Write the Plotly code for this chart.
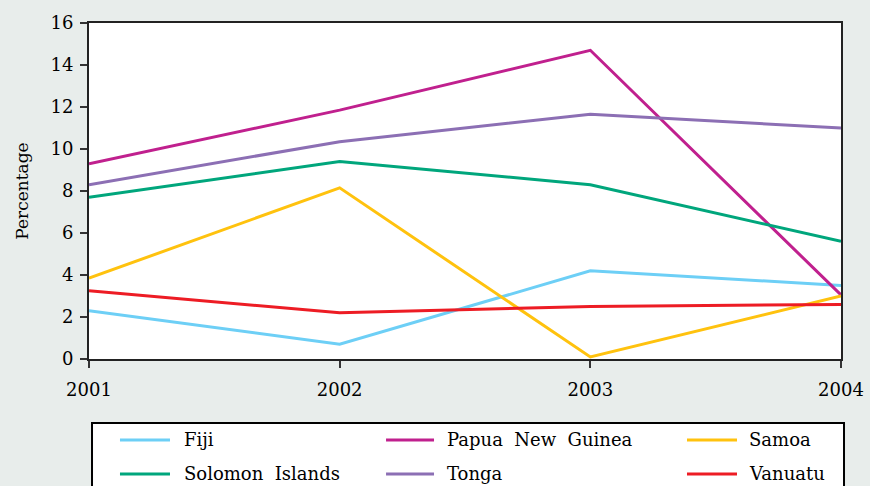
import plotly.graph_objects as go

years = [2001, 2002, 2003, 2004]
series_names = ["Fiji", "Papua New Guinea", "Samoa",
                "Solomon Islands", "Tonga", "Vanuatu"]
fiji = [2.3, 0.7, 4.2, 3.5]
papua_new_guinea = [9.3, 11.85, 14.7, 3.05]
samoa = [3.85, 8.15, 0.1, 3.0]
solomon_islands = [7.7, 9.4, 8.3, 5.6]
tonga = [8.3, 10.35, 11.65, 11.0]
vanuatu = [3.25, 2.2, 2.5, 2.6]
y_ticks = [0, 2, 4, 6, 8, 10, 12, 14, 16]

values = [fiji, papua_new_guinea, samoa, solomon_islands, tonga, vanuatu]
colors = ["#6dcff6", "#c0208e", "#ffc20e", "#00a67c", "#8c6fb4", "#ed1c24"]

FONT = "DejaVu Serif"

fig = go.Figure()
for name, vals, col in zip(series_names, values, colors):
    fig.add_trace(go.Scatter(x=years, y=vals, mode="lines", name=name,
                             line=dict(color=col, width=3), showlegend=False))

# legend box below the plot, laid out in three columns
shapes = [dict(type="rect", xref="paper", yref="paper",
               x0=0.004, x1=1.004, y0=-0.55, y1=-0.1905,
               line=dict(color="black", width=2), fillcolor="white", layer="below")]
annotations = []
col_x = [(0.0412, 0.1077, 0.1237), (0.3950, 0.4588, 0.4734), (0.7952, 0.8617, 0.8750)]
row_y = [-0.241, -0.342]
for i, (name, col) in enumerate(zip(series_names, colors)):
    r, c = divmod(i, 3)
    x0, x1, xt = col_x[c]
    shapes.append(dict(type="line", xref="paper", yref="paper",
                       x0=x0, x1=x1, y0=row_y[r], y1=row_y[r],
                       line=dict(color=col, width=3)))
    annotations.append(dict(xref="paper", yref="paper", x=xt, y=row_y[r],
                            text=name.replace(" ", "\u00a0\u00a0"), showarrow=False,
                            xanchor="left", yanchor="middle",
                            font=dict(family=FONT, size=18, color="black")))

fig.update_layout(
    width=870, height=486,
    margin=dict(l=89, r=29, t=23, b=127),
    paper_bgcolor="#e8edeb",
    plot_bgcolor="white",
    font=dict(family=FONT, size=18, color="black"),
    shapes=shapes,
    annotations=annotations,
    xaxis=dict(range=[2001, 2004], tickvals=years, ticktext=[str(y) for y in years],
               showgrid=False, zeroline=False, showline=True, mirror=True,
               linecolor="#222222", linewidth=2, ticks="outside", ticklen=7,
               tickcolor="#333333", tickwidth=2, ticklabelstandoff=6,
               automargin=False),
    yaxis=dict(range=[0, 16], tickvals=y_ticks, showgrid=False, zeroline=False,
               showline=True, mirror=True, linecolor="#222222", linewidth=2,
               ticks="outside", ticklen=7, tickcolor="#333333", tickwidth=2,
               ticklabelstandoff=3, automargin=False,
               title=dict(text="Percentage", font=dict(family=FONT, size=17), standoff=18)),
)

fig.write_html("out.html")
